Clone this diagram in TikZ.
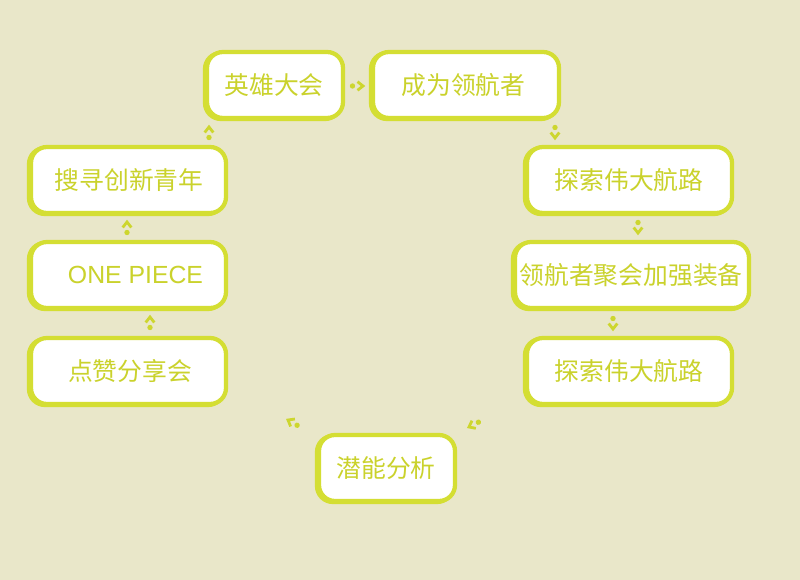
\documentclass[tikz,border=0pt]{standalone}
\usepackage{fontspec}
\setmainfont{Noto Sans CJK SC}
\newfontfamily\latinf{Liberation Sans}
\usetikzlibrary{shadows}
\definecolor{bgc}{HTML}{E9E7C9}
\definecolor{boxc}{HTML}{D4DE33}
\definecolor{txtc}{HTML}{CAD22C}
\definecolor{arrc}{HTML}{CDD62E}
\tikzset{
  stepbox/.style={rectangle, rounded corners=12pt, fill=white, draw=boxc,
    line width=3.2pt, minimum height=49.5pt, inner sep=0pt,
    general shadow={fill=boxc, draw=boxc, line width=3.2pt, shadow xshift=-1.5pt, shadow yshift=-0.75pt}},
  lbl/.style={text=txtc, font=\fontsize{18.6pt}{22pt}\selectfont, inner sep=0pt},
  flowarrow/.pic={
    \fill[arrc] (-10.5,0) circle[radius=2.7];
    \draw[arrc, line width=2.1pt, line join=miter] (-5.5,4.3) -- (0,0) -- (-5.5,-4.3);
  }
}
\begin{document}
\begin{tikzpicture}[x=0.75pt, y=-0.75pt]
\fill[bgc] (0,0) rectangle (800,580);
\useasboundingbox (0,0) rectangle (800,580);
% boxes
\node[stepbox, minimum width=102pt] (n1) at (275,85) {};
\node[stepbox, minimum width=139.5pt] (n2) at (466,85) {};
\node[stepbox, minimum width=153.75pt] (n3) at (629.5,180) {};
\node[stepbox, minimum width=175.5pt] (n4) at (632,275) {};
\node[stepbox, minimum width=153.75pt] (n5) at (629.5,371) {};
\node[stepbox, minimum width=102pt] (n6) at (387,468) {};
\node[stepbox, minimum width=146.25pt] (n7) at (128.5,371) {};
\node[stepbox, minimum width=146.25pt] (n8) at (128.5,275) {};
\node[stepbox, minimum width=146.25pt] (n9) at (128.5,180) {};
% labels
\node[lbl] (t1) at (274,85) {英雄大会};
\node[lbl] (t2) at (463.5,85) {成为领航者};
\node[lbl] (t3) at (629,180) {探索伟大航路};
\node[lbl] (t4) at (631,275) {领航者聚会加强装备};
\node[lbl] (t5) at (629,371) {探索伟大航路};
\node[lbl] (t6) at (386,468) {潜能分析};
\node[lbl] (t7) at (130,371) {点赞分享会};
\node[lbl, font=\latinf\fontsize{18.6pt}{22pt}\selectfont] (t8) at (135.5,275) {ONE PIECE};
\node[lbl] (t9) at (129,180) {搜寻创新青年};
% connectors
\coordinate (c12) at (363,86);
\coordinate (c23) at (555,138);
\coordinate (c34) at (638,233);
\coordinate (c45) at (613,329);
\coordinate (c56) at (469,427);
\coordinate (c67) at (288,420);
\coordinate (c78) at (150,317);
\coordinate (c89) at (127,222);
\coordinate (c91) at (209,127);
\pic at (c12) {flowarrow};
\pic[rotate=-90] at (c23) {flowarrow};
\pic[rotate=-90] at (c34) {flowarrow};
\pic[rotate=-90] at (c45) {flowarrow};
\pic[rotate=207] at (c56) {flowarrow};
\pic[rotate=150] at (c67) {flowarrow};
\pic[rotate=90] at (c78) {flowarrow};
\pic[rotate=90] at (c89) {flowarrow};
\pic[rotate=90] at (c91) {flowarrow};
\end{tikzpicture}
\end{document}
